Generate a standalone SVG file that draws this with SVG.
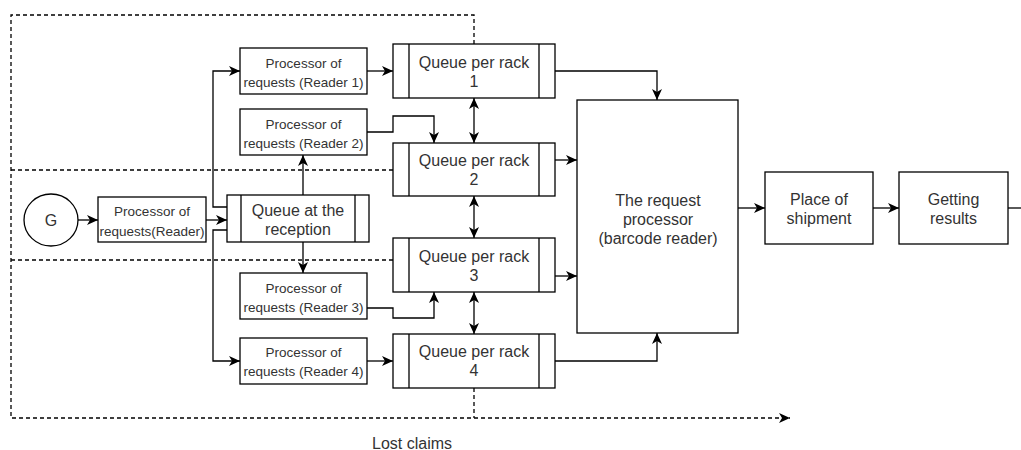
<svg xmlns="http://www.w3.org/2000/svg" width="1021" height="450" viewBox="0 0 1021 450">
<defs>
<marker id="arr" markerUnits="userSpaceOnUse" markerWidth="12" markerHeight="11" refX="11" refY="5" orient="auto-start-reverse" viewBox="0 0 12 11">
<path d="M0,0 L11,5 L0,10 L3,5 z" fill="#000" stroke="none"/>
</marker>
</defs>
<style>
.box{fill:#fff;stroke:#000;stroke-width:1.3}
.ln{fill:none;stroke:#000;stroke-width:1.3}
.ds{fill:none;stroke:#000;stroke-width:1.3;stroke-dasharray:4 3}
.t{font-family:"Liberation Sans",Arial,sans-serif;fill:#333;text-anchor:middle}
.s{font-size:13.5px}
.b{font-size:16px}
</style>
<rect width="1021" height="450" fill="#fff"/>
<g id="connectors">
<path class="ds" d="M474,44 V15 H11 V418 H790" marker-end="url(#arr)"/>
<path class="ds" d="M393,170 H11"/>
<path class="ds" d="M393,260 H11"/>
<path class="ds" d="M474,388 V418"/>
<path class="ln" d="M78,220 H98" marker-end="url(#arr)"/>
<path class="ln" d="M206,220 H227" marker-end="url(#arr)"/>
<path class="ln" d="M227,207 H213 V71 H240" marker-end="url(#arr)"/>
<path class="ln" d="M227,230 H213 V361 H240" marker-end="url(#arr)"/>
<path class="ln" d="M303,195 V155" marker-end="url(#arr)"/>
<path class="ln" d="M303,242 V273" marker-end="url(#arr)"/>
<path class="ln" d="M367,71 H393" marker-end="url(#arr)"/>
<path class="ln" d="M367,132 H393 V116 H434 V143" marker-end="url(#arr)"/>
<path class="ln" d="M367,308 H393 V318 H434 V292" marker-end="url(#arr)"/>
<path class="ln" d="M367,361 H393" marker-end="url(#arr)"/>
<path class="ln" d="M474,98 V143" marker-start="url(#arr)" marker-end="url(#arr)"/>
<path class="ln" d="M474,196 V238" marker-start="url(#arr)" marker-end="url(#arr)"/>
<path class="ln" d="M474,292 V334" marker-start="url(#arr)" marker-end="url(#arr)"/>
<path class="ln" d="M555,71 H657 V100" marker-end="url(#arr)"/>
<path class="ln" d="M555,160 H577" marker-end="url(#arr)"/>
<path class="ln" d="M555,276 H577" marker-end="url(#arr)"/>
<path class="ln" d="M555,361 H657 V333" marker-end="url(#arr)"/>
<path class="ln" d="M738,208 H765" marker-end="url(#arr)"/>
<path class="ln" d="M873,208 H899" marker-end="url(#arr)"/>
<path class="ln" d="M1008,208 H1021"/>
</g>
<g id="g">
<ellipse class="box" cx="51" cy="220" rx="27" ry="26"/>
<text class="t b" x="51" y="226">G</text>
</g>
<g id="reader">
<rect class="box" x="98" y="197" width="108" height="45"/>
<text class="t s" x="152" y="216">Processor of</text>
<text class="t s" x="152" y="235.5">requests(Reader)</text>
</g>
<g id="queue-reception">
<rect class="box" x="227" y="195" width="142" height="47"/>
<path class="ln" d="M241,195 V242 M355,195 V242"/>
<text class="t b" x="298" y="216">Queue at the</text>
<text class="t b" x="298" y="234.5">reception</text>
</g>
<g id="reader1">
<rect class="box" x="240" y="48" width="127" height="46"/>
<text class="t s" x="303.5" y="68">Processor of</text>
<text class="t s" x="303.5" y="86.5">requests (Reader 1)</text>
</g>
<g id="reader2">
<rect class="box" x="240" y="109" width="127" height="46"/>
<text class="t s" x="303.5" y="128.5">Processor of</text>
<text class="t s" x="303.5" y="148">requests (Reader 2)</text>
</g>
<g id="reader3">
<rect class="box" x="240" y="273" width="127" height="46"/>
<text class="t s" x="303.5" y="292.5">Processor of</text>
<text class="t s" x="303.5" y="311.5">requests (Reader 3)</text>
</g>
<g id="reader4">
<rect class="box" x="240" y="338" width="127" height="46"/>
<text class="t s" x="303.5" y="357">Processor of</text>
<text class="t s" x="303.5" y="376">requests (Reader 4)</text>
</g>
<g id="queue1">
<rect class="box" x="393" y="44" width="162" height="54"/>
<path class="ln" d="M409,44 V98 M539,44 V98"/>
<text class="t b" x="474" y="68">Queue per rack</text>
<text class="t b" x="474" y="87">1</text>
</g>
<g id="queue2">
<rect class="box" x="393" y="143" width="162" height="53"/>
<path class="ln" d="M409,143 V196 M539,143 V196"/>
<text class="t b" x="474" y="166">Queue per rack</text>
<text class="t b" x="474" y="185">2</text>
</g>
<g id="queue3">
<rect class="box" x="393" y="238" width="162" height="54"/>
<path class="ln" d="M409,238 V292 M539,238 V292"/>
<text class="t b" x="474" y="262">Queue per rack</text>
<text class="t b" x="474" y="281">3</text>
</g>
<g id="queue4">
<rect class="box" x="393" y="334" width="162" height="54"/>
<path class="ln" d="M409,334 V388 M539,334 V388"/>
<text class="t b" x="474" y="357">Queue per rack</text>
<text class="t b" x="474" y="376">4</text>
</g>
<g id="processor">
<rect class="box" x="577" y="100" width="161" height="233"/>
<text class="t b" x="658" y="206">The request</text>
<text class="t b" x="658" y="225">processor</text>
<text class="t b" x="658" y="244">(barcode reader)</text>
</g>
<g id="shipment">
<rect class="box" x="765" y="172" width="108" height="72"/>
<text class="t b" x="819" y="205">Place of</text>
<text class="t b" x="819" y="224">shipment</text>
</g>
<g id="results">
<rect class="box" x="899" y="172" width="109" height="72"/>
<text class="t b" x="953.5" y="205">Getting</text>
<text class="t b" x="953.5" y="224">results</text>
</g>
<g id="lost">
<text class="t b" x="412" y="449">Lost claims</text>
</g>
</svg>
